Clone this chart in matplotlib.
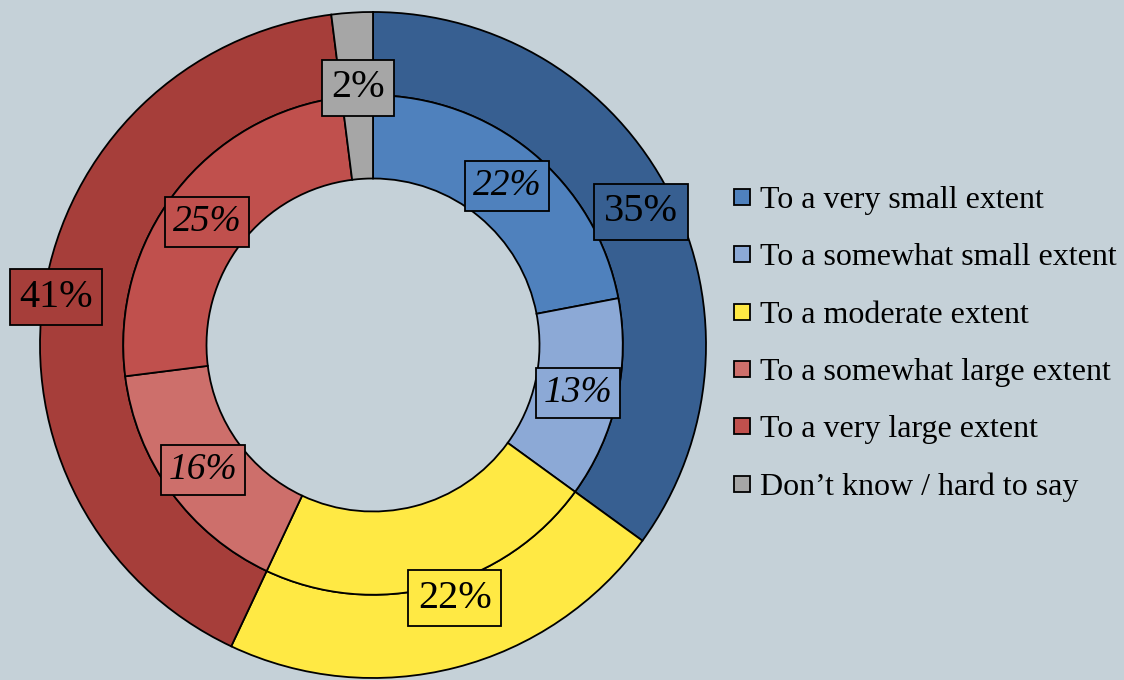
import numpy as np
from matplotlib import pyplot as plt
from matplotlib.lines import Line2D

plt.rcParams['font.family'] = ['Liberation Serif', 'DejaVu Serif']

# outer ring: grouped answers
outer_vals = [35, 22, 41, 2]
outer_cols = ['#375F91', '#FFE944', '#A63E3A', '#A6A6A6']
outer_xy = [(0.805, 0.40), (0.246, -0.76), (-0.952, 0.144), (-0.045, 0.772)]

# inner ring: detailed answers
inner_vals = [22, 13, 22, 16, 25, 2]
inner_cols = ['#4F81BD', '#8CA9D6', '#FFE944', '#CD6F6B', '#C0504D', '#A6A6A6']
inner_xy = [(0.402, 0.477), (0.616, -0.144), None, (-0.51, -0.375), (-0.498, 0.369), None]

legend_labels = ['To a very small extent', 'To a somewhat small extent',
                 'To a moderate extent', 'To a somewhat large extent',
                 'To a very large extent', 'Don\u2019t know / hard to say']

bg = '#C5D1D8'
fig = plt.figure(figsize=(11.24, 6.8), dpi=100, facecolor=bg)
ax = fig.add_axes([33/1124, -5/680, 680/1124, 680/680])
ax.set_facecolor(bg)
ax.axis('off')

wp = dict(width=0.25, edgecolor='black', linewidth=1.3)
ax.pie(outer_vals, radius=1.0, colors=outer_cols, startangle=90,
       counterclock=False, wedgeprops=wp)
ax.pie(inner_vals, radius=0.75, colors=inner_cols, startangle=90,
       counterclock=False, wedgeprops=wp)
lim = 340/333
ax.set_xlim(-lim, lim)
ax.set_ylim(-lim, lim)
ax.set_aspect('equal')

for v, c, p in zip(outer_vals, outer_cols, outer_xy):
    ax.text(p[0], p[1], '%d%%' % v, fontsize=29, ha='center', va='center',
            bbox=dict(boxstyle='square,pad=0.24', fc=c, ec='black', lw=1.3))
for v, c, p in zip(inner_vals, inner_cols, inner_xy):
    if p is None:
        continue
    ax.text(p[0], p[1], '%d%%' % v, fontsize=27, style='italic', ha='center', va='center',
            bbox=dict(boxstyle='square,pad=0.2', fc=c, ec='black', lw=1.3))

handles = [Line2D([], [], marker='s', ls='none', markersize=11, markerfacecolor=c,
                  markeredgecolor='black', markeredgewidth=1.3) for c in inner_cols]
fig.legend(handles, legend_labels, loc='upper left', bbox_to_anchor=(718/1124, 1 - 173/680),
           frameon=False, fontsize=23, handlelength=0.7, handletextpad=0.2,
           labelspacing=0.875, borderaxespad=0)

fig.savefig('out.png', dpi=100, facecolor=bg)
